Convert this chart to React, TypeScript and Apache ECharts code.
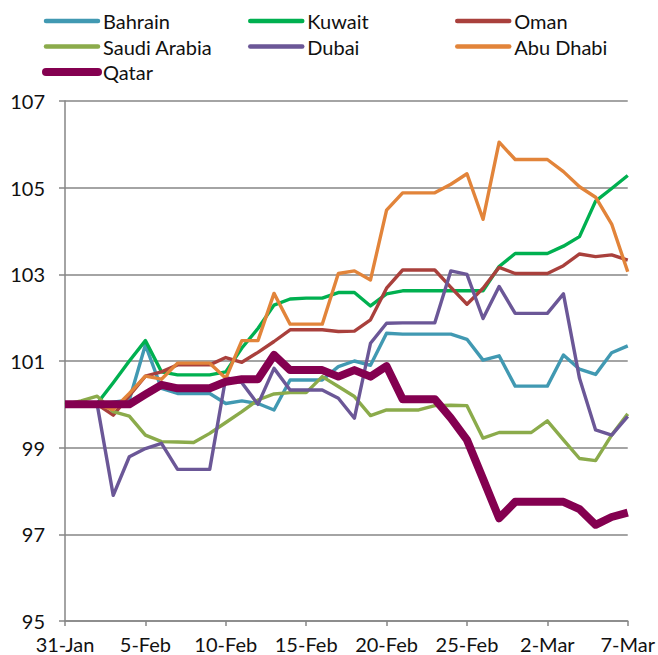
import React, { useEffect, useRef } from "react";
import * as echarts from "echarts";

const dates = [
  "31-Jan", "1-Feb", "2-Feb", "3-Feb", "4-Feb", "5-Feb", "6-Feb", "7-Feb", "8-Feb", "9-Feb",
  "10-Feb", "11-Feb", "12-Feb", "13-Feb", "14-Feb", "15-Feb", "16-Feb", "17-Feb", "18-Feb", "19-Feb",
  "20-Feb", "21-Feb", "22-Feb", "23-Feb", "24-Feb", "25-Feb", "26-Feb", "27-Feb", "28-Feb", "1-Mar",
  "2-Mar", "3-Mar", "4-Mar", "5-Mar", "6-Mar", "7-Mar",
];

const bahrain = [100, 100, 100, 100.05, 100.1, 101.37, 100.37, 100.25, 100.25, 100.25, 100.02, 100.08, 100.02, 99.87, 100.56, 100.56, 100.56, 100.87, 101.0, 100.9, 101.64, 101.62, 101.62, 101.62, 101.62, 101.5, 101.02, 101.12, 100.42, 100.42, 100.42, 101.14, 100.81, 100.69, 101.19, 101.35];
const kuwait = [100, 100, 100.02, 100.5, 101.0, 101.47, 100.75, 100.68, 100.68, 100.68, 100.75, 101.3, 101.75, 102.29, 102.43, 102.45, 102.45, 102.58, 102.58, 102.27, 102.55, 102.62, 102.62, 102.62, 102.62, 102.62, 102.62, 103.18, 103.48, 103.48, 103.48, 103.65, 103.87, 104.69, 104.98, 105.28];
const oman = [100, 100, 100, 99.75, 100.2, 100.65, 100.75, 100.91, 100.91, 100.91, 101.08, 100.97, 101.2, 101.45, 101.72, 101.72, 101.72, 101.68, 101.69, 101.95, 102.68, 103.1, 103.1, 103.1, 102.7, 102.31, 102.68, 103.16, 103.02, 103.02, 103.02, 103.2, 103.47, 103.41, 103.45, 103.33];
const saudi = [100, 100.08, 100.19, 99.83, 99.73, 99.29, 99.14, 99.13, 99.12, 99.33, 99.58, 99.83, 100.1, 100.24, 100.27, 100.27, 100.64, 100.41, 100.18, 99.74, 99.87, 99.87, 99.87, 99.97, 99.98, 99.97, 99.22, 99.35, 99.35, 99.35, 99.62, 99.18, 98.75, 98.7, 99.29, 99.78];
const dubai = [100, 100, 100, 97.9, 98.79, 98.98, 99.1, 98.5, 98.5, 98.5, 100.62, 100.5, 100.0, 100.83, 100.33, 100.33, 100.33, 100.14, 99.68, 101.41, 101.87, 101.88, 101.88, 101.88, 103.08, 103.0, 101.98, 102.72, 102.1, 102.1, 102.1, 102.55, 100.6, 99.41, 99.29, 99.72];
const abuDhabi = [100, 100, 100, 99.88, 100.25, 100.65, 100.58, 100.95, 100.95, 100.95, 100.6, 101.47, 101.47, 102.56, 101.85, 101.85, 101.85, 103.02, 103.08, 102.87, 104.48, 104.88, 104.88, 104.88, 105.08, 105.32, 104.27, 106.05, 105.65, 105.65, 105.65, 105.37, 105.02, 104.78, 104.16, 103.06];
const qatar = [100, 100, 100, 100, 100, 100.23, 100.45, 100.37, 100.37, 100.37, 100.52, 100.58, 100.58, 101.14, 100.79, 100.79, 100.79, 100.64, 100.79, 100.64, 100.88, 100.12, 100.12, 100.12, 99.68, 99.18, 98.28, 97.37, 97.75, 97.75, 97.75, 97.75, 97.58, 97.22, 97.4, 97.5];

const seriesNames = ["Bahrain", "Kuwait", "Oman", "Saudi Arabia", "Dubai", "Abu Dhabi", "Qatar"];
const seriesData = [bahrain, kuwait, oman, saudi, dubai, abuDhabi, qatar];
const seriesColors = ["#4199B2", "#00B050", "#A9403C", "#8BAB4B", "#6B5797", "#E2843A", "#840050"];

const FONT = "Lato, 'Open Sans', sans-serif";

export default function App() {
  const ref = useRef<HTMLDivElement>(null);
  useEffect(() => {
    if (!ref.current) return;
    const chart = echarts.init(ref.current, null, { renderer: "svg" });
    const legendText = { fontFamily: FONT, fontSize: 20, color: "#111" };
    const legendCommon = {
      orient: "vertical" as const,
      top: 11,
      padding: 0,
      itemWidth: 52,
      itemHeight: 20,
      itemGap: 5.5,
      textStyle: legendText,
      itemStyle: { opacity: 0, color: "transparent", borderWidth: 0 },
      lineStyle: { width: 4.5, cap: "round" },
    };
    chart.setOption({
      animation: false,
      legend: [
        {
          ...legendCommon,
          left: 42,
          data: ["Bahrain", "Saudi Arabia", { name: "Qatar", lineStyle: { width: 8, cap: "round" } }],
        },
        { ...legendCommon, left: 248, data: ["Kuwait", "Dubai"] },
        { ...legendCommon, left: 455, data: ["Oman", "Abu Dhabi"] },
      ],
      grid: { left: 65, top: 101, right: 27, bottom: 34, containLabel: false },
      xAxis: {
        type: "category",
        data: dates,
        boundaryGap: false,
        axisLine: { lineStyle: { color: "#868686", width: 1.5 } },
        axisTick: { show: true, interval: 4, length: 5, lineStyle: { color: "#868686", width: 1.5 } },
        axisLabel: { interval: 4, margin: 13, fontFamily: FONT, fontSize: 20, color: "#111" },
        splitLine: { show: false },
      },
      yAxis: {
        type: "value",
        min: 95,
        max: 107,
        interval: 2,
        axisLine: { show: true, lineStyle: { color: "#868686", width: 1.5 } },
        axisTick: { show: true, length: 6, lineStyle: { color: "#868686", width: 1.5 } },
        axisLabel: { margin: 20, fontFamily: FONT, fontSize: 20, color: "#111" },
        splitLine: { show: true, lineStyle: { color: "#868686", width: 1.5 } },
      },
      series: seriesNames.map((name, i) => ({
        name,
        type: "line",
        data: seriesData[i],
        symbol: "none",
        color: seriesColors[i],
        lineStyle: { width: name === "Qatar" ? 8 : 3.4, color: seriesColors[i], join: "round" },
        z: name === "Qatar" ? 5 : 2,
      })),
    });
    return () => chart.dispose();
  }, []);
  return (
    <div
      ref={ref}
      style={{ position: "absolute", left: 0, top: 0, width: 658, height: 655, background: "#fff" }}
    />
  );
}
